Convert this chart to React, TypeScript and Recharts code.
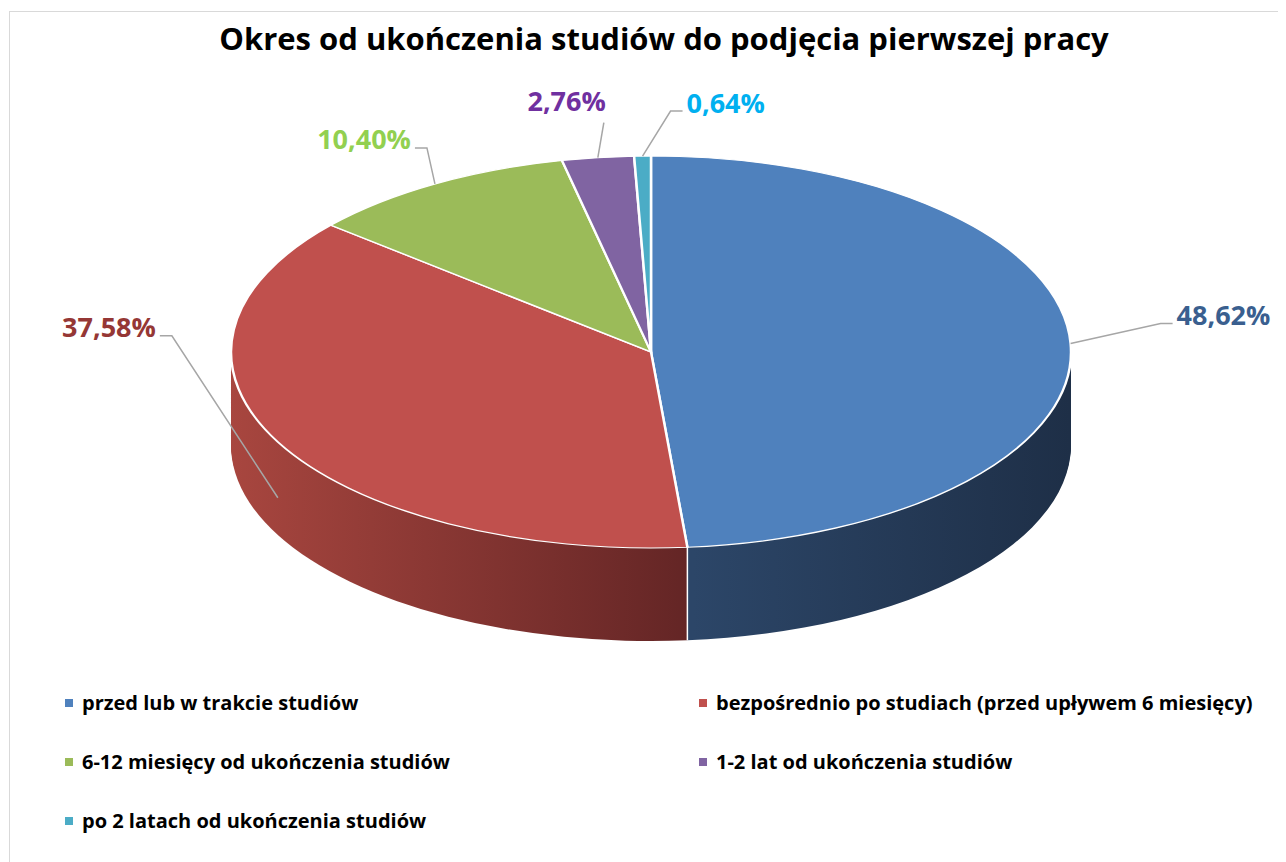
import React from "react";
import { Cell, Pie, PieChart } from "recharts";

const categories = [
  "przed lub w trakcie studiów",
  "bezpośrednio po studiach (przed upływem 6 miesięcy)",
  "6-12 miesięcy od ukończenia studiów",
  "1-2 lat od ukończenia studiów",
  "po 2 latach od ukończenia studiów",
];
const shares = [48.62, 37.58, 10.4, 2.76, 0.64];

const topColors = ["#4f81bd", "#c0504d", "#9bbb59", "#8064a2", "#4bacc6"];
const labelColors = ["#3a5f8f", "#953735", "#92d050", "#7030a0", "#00b0f0"];
const sideGradients = [
  ["#2c4668", "#1e2f47"],
  ["#a8463f", "#632525"],
  ["#6d8a3a", "#4f652a"],
  ["#5a4575", "#433358"],
  ["#347e92", "#25606f"],
];

// hand-placed label leaders, like the original Excel chart
const labelLayout = [
  { dx: 102, dy: -20, side: 1, drop: 0 },
  { dx: -118, dy: -162, side: -1, drop: 0.6 },
  { dx: -20, dy: -36, side: -1, drop: 0 },
  { dx: 6, dy: -35, side: 0, drop: 0 },
  { dx: 40, dy: -45, side: 1, drop: 0 },
];

const data = categories.map((name, i) => ({ name, value: shares[i] }));

const FONT = "'Open Sans', sans-serif";
const RAD = Math.PI / 180;
const W = 1308;
const CX = 641;
const CY = 340;
const R = 420;
const SQUASH = 0.4667;
const DEPTH = 93;
const cyU = CY / SQUASH;
const depthU = DEPTH / SQUASH;
const HU = Math.ceil(cyU + depthU + R + 10);
const LAYERS = 50;
const layerCys = Array.from(
  { length: LAYERS },
  (_, i) => cyU + (depthU * (LAYERS - i)) / LAYERS
);

const fmt = (v: number) => v.toFixed(2).replace(".", ",") + "%";

function SliceLabel(props: any) {
  const { cx, cy, midAngle, endAngle, index, value } = props;
  const lay = labelLayout[index];
  const sx = cx + R * Math.cos(midAngle * RAD);
  const sy = cy - R * SQUASH * Math.sin(midAngle * RAD) + lay.drop * DEPTH;
  const ex = sx + lay.dx;
  const ey = sy + lay.dy;
  const color = labelColors[index];

  // white seam on the front side where the first slice ends
  let seam = null;
  if (index === 0) {
    const bx = cx + R * Math.cos(endAngle * RAD);
    const by = cy - R * SQUASH * Math.sin(endAngle * RAD);
    seam = <line x1={bx} y1={by} x2={bx} y2={by + DEPTH} stroke="#ffffff" strokeWidth={1.5} />;
  }

  if (lay.side === 0) {
    return (
      <g>
        <polyline points={`${sx},${sy} ${ex},${ey}`} fill="none" stroke="#a6a6a6" strokeWidth={1.5} />
        <text x={ex + 2} y={ey - 22} textAnchor="end" dominantBaseline="central" fill={color}
          style={{ fontFamily: FONT, fontWeight: 700, fontSize: 27 }}>
          {fmt(value)}
        </text>
      </g>
    );
  }
  const kx = ex - lay.side * 12;
  return (
    <g>
      {seam}
      <polyline points={`${sx},${sy} ${kx},${ey} ${ex},${ey}`} fill="none" stroke="#a6a6a6" strokeWidth={1.5} />
      <text x={ex + lay.side * 4} y={ey - 9} textAnchor={lay.side > 0 ? "start" : "end"}
        dominantBaseline="central" fill={color}
        style={{ fontFamily: FONT, fontWeight: 700, fontSize: 27 }}>
        {fmt(value)}
      </text>
    </g>
  );
}

export default function App() {
  return (
    <div
      style={{
        position: "relative",
        width: W,
        height: 870,
        marginLeft: 1,
        marginTop: 3,
        border: "1px solid #d9d9d9",
        background: "#fff",
        fontFamily: FONT,
        overflow: "hidden",
      }}
    >
      <div
        style={{
          position: "absolute",
          top: 5,
          left: 0,
          width: W,
          textAlign: "center",
          fontSize: 31,
          fontWeight: 700,
          color: "#000",
          lineHeight: "42px",
        }}
      >
        Okres od ukończenia studiów do podjęcia pierwszej pracy
      </div>

      <div
        style={{
          position: "absolute",
          top: 0,
          left: 0,
          width: W,
          height: HU,
          transform: `scaleY(${SQUASH})`,
          transformOrigin: "0 0",
        }}
      >
        <PieChart width={W} height={HU} margin={{ top: 0, right: 0, bottom: 0, left: 0 }}>
          <defs>
            {sideGradients.map((g, i) => (
              <linearGradient
                key={i}
                id={`side${i}`}
                gradientUnits="userSpaceOnUse"
                x1={i === 0 ? 683 : 220}
                x2={i === 0 ? 1060 : 683}
                y1={0}
                y2={0}
              >
                <stop offset="0%" stopColor={g[0]} />
                <stop offset="100%" stopColor={g[1]} />
              </linearGradient>
            ))}
          </defs>
          {layerCys.map((cy, li) => (
            <Pie
              key={`layer${li}`}
              data={data}
              dataKey="value"
              cx={CX}
              cy={cy}
              outerRadius={R}
              startAngle={90}
              endAngle={-270}
              stroke="none"
              isAnimationActive={false}
            >
              {data.map((_, i) => (
                <Cell key={i} fill={`url(#side${i})`} stroke="none" />
              ))}
            </Pie>
          ))}
          <Pie
            data={data}
            dataKey="value"
            cx={CX}
            cy={cyU}
            outerRadius={R}
            startAngle={90}
            endAngle={-270}
            isAnimationActive={false}
          >
            {data.map((_, i) => (
              <Cell key={i} fill={topColors[i]} stroke="#ffffff" strokeWidth={2.5} />
            ))}
          </Pie>
        </PieChart>
      </div>

      <div style={{ position: "absolute", top: 0, left: 0 }}>
        <PieChart width={W} height={700} margin={{ top: 0, right: 0, bottom: 0, left: 0 }}>
          <Pie
            data={data}
            dataKey="value"
            cx={CX}
            cy={CY}
            outerRadius={R}
            startAngle={90}
            endAngle={-270}
            fill="none"
            stroke="none"
            label={<SliceLabel />}
            labelLine={false}
            isAnimationActive={false}
          />
        </PieChart>
      </div>

      <div
        style={{
          position: "absolute",
          left: 55,
          top: 661,
          display: "grid",
          gridTemplateColumns: "634px auto",
          gridAutoRows: "59px",
          alignItems: "center",
        }}
      >
        {categories.map((c, i) => (
          <div key={c} style={{ display: "flex", alignItems: "center" }}>
            <span style={{ width: 8, height: 8, background: topColors[i], marginRight: 9 }} />
            <span style={{ fontSize: 20, fontWeight: 700, color: "#000", whiteSpace: "nowrap" }}>{c}</span>
          </div>
        ))}
      </div>
    </div>
  );
}
